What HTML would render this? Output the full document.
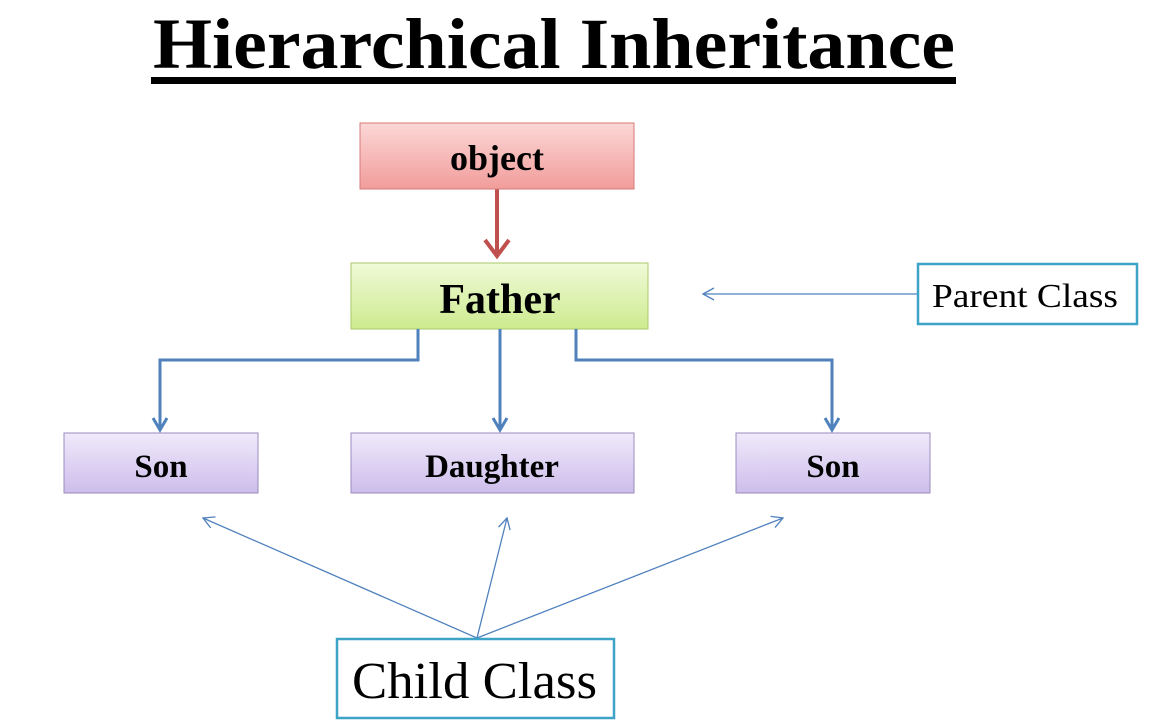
<!DOCTYPE html>
<html><head><meta charset="utf-8"><style>
html,body{margin:0;padding:0;background:#fff;width:1164px;height:723px;overflow:hidden}
</style></head><body>
<svg width="1164" height="723" xmlns="http://www.w3.org/2000/svg">
<defs>
<linearGradient id="pk" x1="0" y1="0" x2="0" y2="1"><stop offset="0" stop-color="#fbd7d6"/><stop offset="1" stop-color="#f19d9b"/></linearGradient>
<linearGradient id="gr" x1="0" y1="0" x2="0" y2="1"><stop offset="0" stop-color="#f0fad8"/><stop offset="1" stop-color="#cdeb8f"/></linearGradient>
<linearGradient id="pu" x1="0" y1="0" x2="0" y2="1"><stop offset="0" stop-color="#f0eafb"/><stop offset="1" stop-color="#cdbdeb"/></linearGradient>
</defs>
<text x="153" y="68" font-family="Liberation Serif, serif" font-weight="bold" font-size="72" textLength="802" lengthAdjust="spacingAndGlyphs">Hierarchical Inheritance</text>
<rect x="151" y="77" width="805" height="7" fill="#000"/>

<line x1="497" y1="189" x2="497" y2="256" stroke="#c0504d" stroke-width="4"/>
<path d="M485,240 L497,256 L509,240" fill="none" stroke="#c0504d" stroke-width="4"/>
<rect x="360" y="123" width="274" height="66" fill="url(#pk)" stroke="#d47b79" stroke-width="1"/>
<text x="497" y="170" text-anchor="middle" font-family="Liberation Serif, serif" font-weight="bold" font-size="36">object</text>

<rect x="351" y="263" width="297" height="66" fill="url(#gr)" stroke="#a9c86a" stroke-width="1"/>
<text x="500" y="313" text-anchor="middle" font-family="Liberation Serif, serif" font-weight="bold" font-size="42">Father</text>

<g fill="none" stroke="#4f81bd" stroke-width="3">
<path d="M418,329 V360 H160 V430"/>
<path d="M500,329 V430"/>
<path d="M576,329 V360 H832 V430"/>
<path d="M153,418 L160,430 L167,418"/>
<path d="M493,418 L500,430 L507,418"/>
<path d="M825,418 L832,430 L839,418"/>
</g>

<g font-family="Liberation Serif, serif" font-weight="bold" font-size="33" text-anchor="middle">
<rect x="64" y="433" width="194" height="60" fill="url(#pu)" stroke="#9b8bc0"/>
<text x="161" y="477">Son</text>
<rect x="351" y="433" width="283" height="60" fill="url(#pu)" stroke="#9b8bc0"/>
<text x="492" y="477">Daughter</text>
<rect x="736" y="433" width="194" height="60" fill="url(#pu)" stroke="#9b8bc0"/>
<text x="833" y="477">Son</text>
</g>

<g stroke="#4f81bd" stroke-width="1.3" fill="none">
<line x1="918" y1="294" x2="703" y2="294"/>
<path d="M714,288 L703,294 L714,300"/>
<line x1="477" y1="638" x2="203" y2="518"/>
<path d="M210.7,527.9 L203,518 L215.5,516.9"/>
<line x1="477" y1="638" x2="507" y2="518"/>
<path d="M498.5,527.2 L507,518 L510.1,530.2"/>
<line x1="477" y1="638" x2="783" y2="518"/>
<path d="M770.6,516.4 L783,518 L775,527.6"/>
</g>
<rect x="918" y="264" width="219" height="60" fill="#fff" stroke="#3da3c7" stroke-width="2.5"/>
<text x="932" y="307" textLength="186" lengthAdjust="spacingAndGlyphs" font-family="Liberation Serif, serif" font-size="34">Parent Class</text>

<rect x="337" y="639" width="277" height="79" fill="#fff" stroke="#3da3c7" stroke-width="2.5"/>
<text x="352" y="698" textLength="245" lengthAdjust="spacingAndGlyphs" font-family="Liberation Serif, serif" font-size="52">Child Class</text>
</svg>
</body></html>
